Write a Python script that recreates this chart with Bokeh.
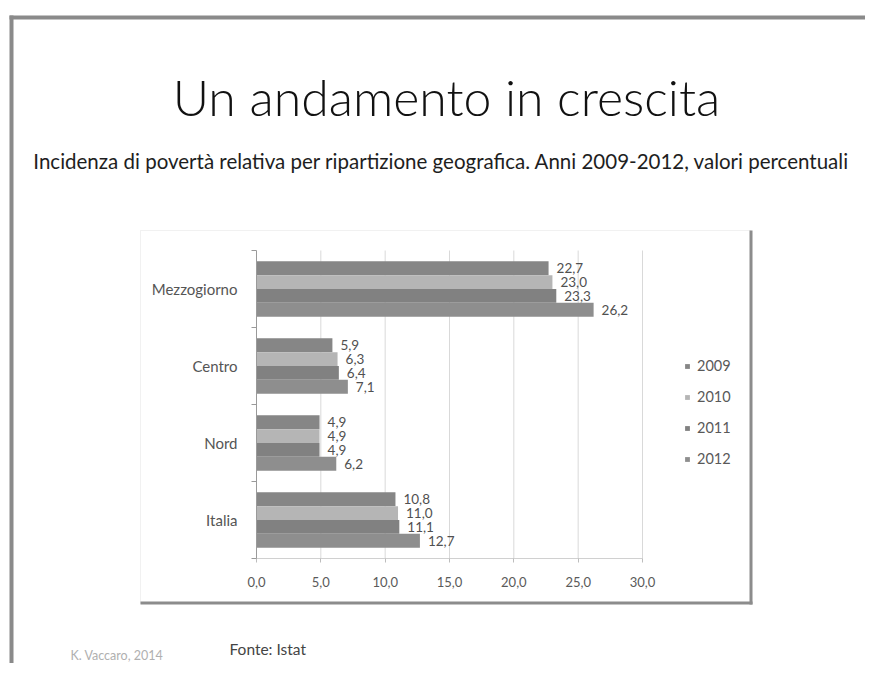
from bokeh.plotting import figure
from bokeh.models import (ColumnDataSource, FixedTicker, CustomJSTickFormatter, Label,
                          BoxAnnotation, Legend, LegendItem, LinearAxis, Range1d)
from bokeh.core.properties import value
from bokeh.embed import file_html
from bokeh.resources import INLINE

# ---- data (bottom to top, as in the chart) ----
regions = ["Italia", "Nord", "Centro", "Mezzogiorno"]
years = ["2009", "2010", "2011", "2012"]
v2009 = [10.8, 4.9, 5.9, 22.7]
v2010 = [11.0, 4.9, 6.3, 23.0]
v2011 = [11.1, 4.9, 6.4, 23.3]
v2012 = [12.7, 6.2, 7.1, 26.2]
x_ticks = [0, 5, 10, 15, 20, 25, 30]

title_text = "Un andamento in crescita"
subtitle_text = ("Incidenza di povertà relativa per ripartizione geografica. "
                 "Anni 2009-2012, valori percentuali")
source_text = "Fonte: Istat"
author_text = "K. Vaccaro, 2014"

# ---- layout (canvas pixels) ----
W, H = 865, 663
PX_L, PX_R, PX_T, PX_B = 256, 642, 250, 558   # plot area of the chart
XMAX, YMAX = 30, len(regions)
kx = (PX_R - PX_L) / XMAX
ky = (PX_B - PX_T) / YMAX
x_range = Range1d(-PX_L / kx, (W - PX_L) / kx)
y_range = Range1d(-(H - PX_B) / ky, YMAX + PX_T / ky)

FONT = "Lato"
colors = ["#868686", "#b5b5b5", "#818181", "#8e8e8e"]
bar_h = 0.18
offsets = [1.5, 0.5, -0.5, -1.5]
series = [v2009, v2010, v2011, v2012]

p = figure(width=W, height=H, x_range=x_range, y_range=y_range,
           output_backend="svg", toolbar_location=None,
           x_axis_location=None, y_axis_location=None,
           min_border=0, outline_line_color=None,
           background_fill_color="white", border_fill_color="white")
p.xgrid.visible = False
p.ygrid.visible = False

# vertical grid lines at the x ticks
p.segment(x0=x_ticks[1:], y0=0, x1=x_ticks[1:], y1=YMAX,
          line_color="#d9d9d9", line_width=1)

sources = []
items = []
for yr, vals, off, col in zip(years, series, offsets, colors):
    ys = [i + 0.5 + off * bar_h for i in range(len(regions))]
    src = ColumnDataSource(dict(y=ys, v=vals,
                                lbl=[f"{v:.1f}".replace(".", ",") for v in vals]))
    sources.append(src)
    r = p.hbar(y="y", left=0, right="v", height=bar_h, source=src,
               fill_color=col, line_color=None)
    items.append(LegendItem(label=yr, renderers=[r]))

for src in sources:
    p.text(x="v", y="y", text="lbl", source=src, x_offset=8,
           text_baseline="middle", text_align="left",
           text_font=value(FONT), text_font_size="13.5px", text_color="#505050")

# x axis
xaxis = LinearAxis(fixed_location=0, bounds=(0, XMAX),
                   ticker=FixedTicker(ticks=x_ticks),
                   formatter=CustomJSTickFormatter(
                       code="return tick.toFixed(1).replace('.', ',');"))
xaxis.axis_line_color = "#d0d0d0"
xaxis.major_tick_line_color = "#bdbdbd"
xaxis.major_tick_out = 4
xaxis.major_tick_in = 0
xaxis.minor_tick_line_color = None
xaxis.major_label_standoff = 14
xaxis.major_label_text_font = FONT
xaxis.major_label_text_font_size = "13px"
xaxis.major_label_text_color = "#5a5a5a"
p.add_layout(xaxis, "below")

# y axis (category labels centred, separator ticks at boundaries)
yaxis = LinearAxis(fixed_location=0, bounds=(0, YMAX),
                   ticker=FixedTicker(ticks=[i + 0.5 for i in range(len(regions))],
                                      minor_ticks=list(range(len(regions) + 1))))
yaxis.major_label_overrides = {i + 0.5: name for i, name in enumerate(regions)}
yaxis.major_tick_line_color = None
yaxis.major_tick_out = 0
yaxis.major_tick_in = 0
yaxis.minor_tick_line_color = "#9a9a9a"
yaxis.minor_tick_out = 5
yaxis.minor_tick_in = 0
yaxis.axis_line_color = "#9a9a9a"
yaxis.major_label_standoff = 14
yaxis.major_label_text_font = FONT
yaxis.major_label_text_font_size = "15px"
yaxis.major_label_text_color = "#555555"
p.add_layout(yaxis, "left")

legend = Legend(items=items, location=(684, H - 467), orientation="vertical",
                border_line_color=None, background_fill_alpha=0,
                padding=0, margin=0, spacing=14,
                glyph_width=6, glyph_height=6, label_height=17, label_standoff=7,
                label_text_font=FONT, label_text_font_size="14.5px",
                label_text_color="#595959")
p.add_layout(legend)

# chart box and slide border, given in canvas pixels (top-left origin)
def box(l, r, t, b, **kw):
    return BoxAnnotation(left=l, right=r, top=H - t, bottom=H - b,
                         left_units="screen", right_units="screen",
                         top_units="screen", bottom_units="screen", **kw)

p.add_layout(box(140, 750, 230, 603, fill_alpha=0, line_color="#d2d2d2", line_width=1))
p.add_layout(box(140, 752, 601, 604, fill_color="#8c8c8c", fill_alpha=1, line_color=None))
p.add_layout(box(749, 752, 230, 604, fill_color="#8c8c8c", fill_alpha=1, line_color=None))
p.add_layout(box(9, W, 15, 19, fill_color="#8a8a8a", fill_alpha=1, line_color=None))
p.add_layout(box(9, 13, 15, H, fill_color="#8a8a8a", fill_alpha=1, line_color=None))

def lab(text, x, y, size, color, align="left", font=FONT):
    return Label(x=x, y=H - y, x_units="screen", y_units="screen", text=text,
                 text_align=align, text_baseline="middle", text_font=font,
                 text_font_size=size, text_color=color)

p.add_layout(lab(title_text, 446, 96, "50px", "#111111", "center", "Lato Light, Lato"))
p.add_layout(lab(subtitle_text, 441, 160, "20.5px", "#1e1e1e", "center"))
p.add_layout(lab(source_text, 229, 648, "15.5px", "#444444"))
p.add_layout(lab(author_text, 70, 655, "12.5px", "#b0b0b0"))

open("out.html", "w").write(file_html(p, INLINE))
